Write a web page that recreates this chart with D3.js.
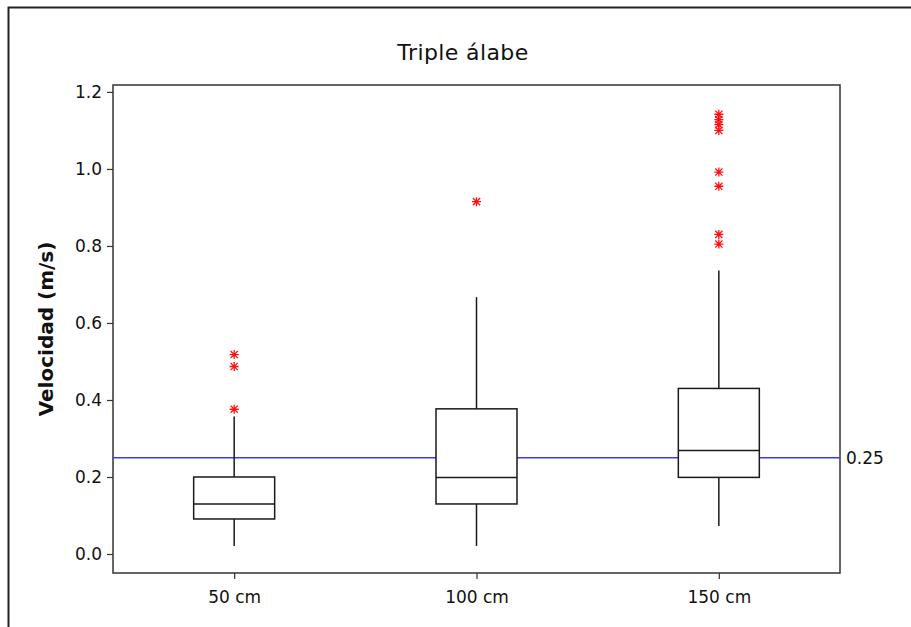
<!DOCTYPE html>
<html>
<head>
<meta charset="utf-8">
<script src="https://cdn.jsdelivr.net/npm/d3@7/dist/d3.min.js"></script>
<style>
  body { margin: 0; background: #fff; }
  svg { display: block; }
  text { font-family: "DejaVu Sans", Verdana, sans-serif; fill: #111; }
</style>
</head>
<body>
<svg id="chart" width="911" height="627"></svg>
<script>
// ---- data ----
const categories = ["50 cm", "100 cm", "150 cm"];
const whiskerLow = [0.021, 0.021, 0.073];
const q1 = [0.091, 0.130, 0.199];
const median = [0.130, 0.199, 0.269];
const q3 = [0.200, 0.377, 0.430];
const whiskerHigh = [0.357, 0.667, 0.736];
const outliers = [
  [0.376, 0.487, 0.518],
  [0.915],
  [0.805, 0.830, 0.955, 0.992, 1.100, 1.115, 1.128, 1.142]
];
const yTicks = [0.0, 0.2, 0.4, 0.6, 0.8, 1.0, 1.2];
const refValue = 0.25;
const refLabel = "0.25";
const title = "Triple álabe";
const yLabel = "Velocidad (m/s)";

// ---- layout ----
const svg = d3.select("#chart");
const pLeft = 113, pRight = 840, pTop = 85, pBottom = 573;
const tickFont = "17px";

const x = d3.scalePoint().domain(categories).range([pLeft, pRight]).padding(0.5);
const y = d3.scaleLinear().domain([-0.0493, 1.218]).range([pBottom, pTop]);
const boxW = 81;

// outer frame
svg.append("path")
  .attr("d", `M8.5,627 L8.5,7.5 L911,7.5`)
  .attr("fill", "none").attr("stroke", "#222").attr("stroke-width", 2);

// title
svg.append("text").attr("x", 463).attr("y", 60)
  .attr("text-anchor", "middle").style("font-size", "22px")
  .style("letter-spacing", "0.4px")
  .text(title);

// plot frame
svg.append("rect").attr("x", pLeft).attr("y", pTop)
  .attr("width", pRight - pLeft).attr("height", pBottom - pTop)
  .attr("fill", "none").attr("stroke", "#333").attr("stroke-width", 1.5);

// y axis
const yAxis = svg.append("g").attr("transform", `translate(${pLeft},0)`)
  .call(d3.axisLeft(y).tickValues(yTicks).tickFormat(d3.format(".1f")).tickSize(6).tickPadding(5));
yAxis.select(".domain").remove();
yAxis.selectAll("line").attr("stroke", "#333").attr("stroke-width", 1.2);
yAxis.selectAll("text").style("font-size", tickFont).style("font-family", "'DejaVu Sans', Verdana, sans-serif").attr("fill", "#222");

// x axis
const xAxis = svg.append("g").attr("transform", `translate(0,${pBottom})`)
  .call(d3.axisBottom(x).tickSize(6).tickPadding(12));
xAxis.select(".domain").remove();
xAxis.selectAll("line").attr("stroke", "#333").attr("stroke-width", 1.2);
xAxis.selectAll("text").style("font-size", tickFont).style("font-family", "'DejaVu Sans', Verdana, sans-serif").attr("fill", "#222");

// y label
svg.append("text")
  .attr("transform", `translate(53,${(pTop + pBottom) / 2}) rotate(-90)`)
  .attr("text-anchor", "middle").style("font-size", "20px").style("font-weight", "bold")
  .text(yLabel);

// reference line
svg.append("line").attr("x1", pLeft).attr("x2", pRight)
  .attr("y1", y(refValue)).attr("y2", y(refValue))
  .attr("stroke", "#3a3af5").attr("stroke-width", 1.3);
svg.append("text").attr("x", pRight + 6).attr("y", y(refValue))
  .attr("dy", "0.35em").style("font-size", tickFont).attr("fill", "#222").text(refLabel);

// boxes
const g = svg.append("g");
categories.forEach((c, i) => {
  const cx = x(c);
  const s = "#1a1a1a";
  g.append("line").attr("x1", cx).attr("x2", cx).attr("y1", y(q3[i])).attr("y2", y(whiskerHigh[i]))
    .attr("stroke", s).attr("stroke-width", 1.5);
  g.append("line").attr("x1", cx).attr("x2", cx).attr("y1", y(q1[i])).attr("y2", y(whiskerLow[i]))
    .attr("stroke", s).attr("stroke-width", 1.5);
  g.append("rect").attr("x", cx - boxW / 2).attr("y", y(q3[i]))
    .attr("width", boxW).attr("height", y(q1[i]) - y(q3[i]))
    .attr("fill", "#fff").attr("stroke", s).attr("stroke-width", 1.5);
  g.append("line").attr("x1", cx - boxW / 2).attr("x2", cx + boxW / 2)
    .attr("y1", y(median[i])).attr("y2", y(median[i]))
    .attr("stroke", s).attr("stroke-width", 1.5);
  // outliers: asterisk markers
  const r = 4.5;
  outliers[i].forEach(v => {
    const oy = y(v);
    g.append("path")
      .attr("d", `M${cx},${oy - r}V${oy + r}M${cx - r},${oy}H${cx + r}` +
        `M${cx - r * 0.8},${oy - r * 0.8}L${cx + r * 0.8},${oy + r * 0.8}` +
        `M${cx - r * 0.8},${oy + r * 0.8}L${cx + r * 0.8},${oy - r * 0.8}`)
      .attr("stroke", "#ff1010").attr("stroke-width", 1.3).attr("fill", "none");
  });
});
</script>
</body>
</html>
